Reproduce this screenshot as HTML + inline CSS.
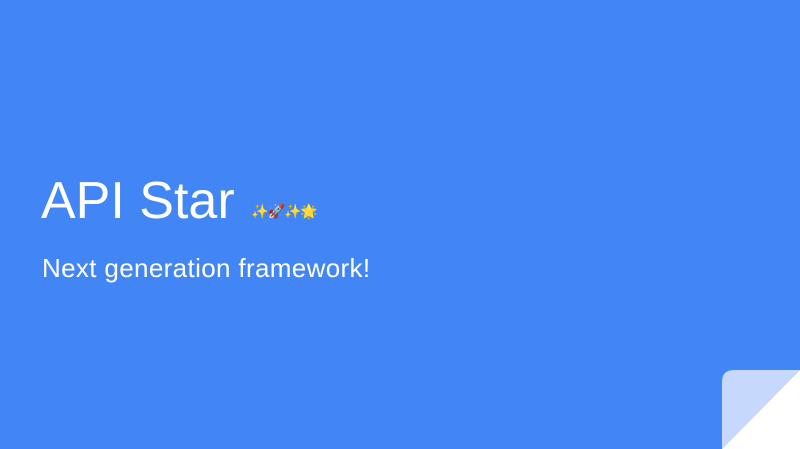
<!DOCTYPE html>
<html><head><meta charset="utf-8"><style>
html,body{margin:0;padding:0}
body{width:800px;height:449px;background:#4285f4;position:relative;overflow:hidden;font-family:"Liberation Sans",sans-serif;color:#fff}
.t{position:absolute;left:41px;top:170px;font-size:52px;line-height:62px;white-space:nowrap}
.e{font-size:14px;letter-spacing:-1px;vertical-align:baseline;position:relative;top:-2px;margin-left:2px}
.s{position:absolute;left:42px;top:252px;font-size:26px;letter-spacing:0.35px;line-height:32px;white-space:nowrap}
svg{position:absolute;left:0;top:0}
</style></head><body>
<div class="t">API Star <span class="e">✨🚀✨🌟</span></div>
<div class="s">Next generation framework!</div>
<svg width="800" height="449">
<path d="M722,449 L722,382 Q722,370 734,370 L800,370 Z" fill="#c6d9fc"/>
<path d="M800,370 L800,449 L722,449 Z" fill="#ffffff"/>
</svg>
</body></html>
